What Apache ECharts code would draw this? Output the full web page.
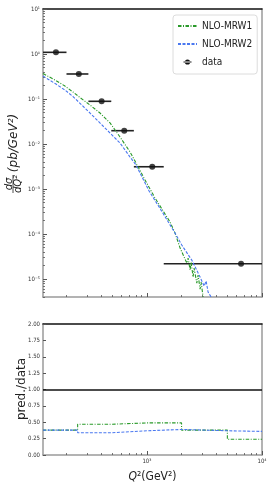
<!DOCTYPE html>
<html><head><meta charset="utf-8">
<script src="https://cdn.jsdelivr.net/npm/echarts@6/dist/echarts.min.js"></script>
<style>html,body{margin:0;padding:0;background:#fff}#c{width:272px;height:490px}</style>
</head><body><div id="c"></div>
<script>
// ---- axis ranges ----
const xMin = 125, xMax = 10000;
const yMin = 4e-6, yMax = 10;
const rMin = 0, rMax = 2;

// ---- theory curves (Q^2, dsigma/dQ^2) ----
const greenQ = [125,159,194,228,262,320,391,478,584,714,805,964,1177,1438,1589,1756,1942,2221,2280,2373,2421,2519,2570,2713,2784,2898,2957,3078];
const greenV = [0.369,0.264,0.194,0.143,0.108,0.0736,0.0489,0.0295,0.0143,0.00664,0.00378,0.00158,0.00063,0.000278,0.000185,0.000105,4.89e-5,2.27e-5,2.93e-5,1.58e-5,2.39e-5,1.107e-5,1.75e-5,8.15e-6,1.23e-5,6.0e-6,8.6e-6,4.0e-6];
const blueQ  = [125,162,194,228,320,450,584,714,805,1044,1327,1497,1756,2009,2454,2898,3140,3268,3402,3613];
const blueV  = [0.324,0.215,0.158,0.1136,0.0489,0.0205,0.0105,0.00514,0.00341,0.000903,0.000341,0.000205,0.000105,5.70e-5,2.64e-5,1.107e-5,6.99e-6,9.03e-6,5.14e-6,4.0e-6];

// ---- data points ----
const dataQ  = [162,256,404,635,1113,6577];
const dataLo = [125,200,310,490,770,1400];
const dataHi = [200,310,490,770,1400,12000];
const dataV  = [1.09,0.36,0.089,0.0198,0.00313,2.19e-5];

// ---- ratio panel ----
const binEdges   = [125,250,500,1000,2000,5000,10000];
const ratioGreen = [0.38,0.47,0.49,0.49,0.38,0.24];
const ratioBlue  = [0.38,0.34,0.37,0.39,0.37,0.36];
const ratioRef = 1.0;

// ---- ticks ----
const xMajor = [1000,10000];
const xMinor = [200,300,400,500,600,700,800,900,2000,3000,4000,5000,6000,7000,8000,9000];
const yMajor = [1e-5,1e-4,1e-3,1e-2,1e-1,1,10];
const yMinorMult = [2,3,4,5,6,7,8,9];

const yMinor = [];
[1e-6,1e-5,1e-4,1e-3,1e-2,1e-1,1].forEach(d => yMinorMult.forEach(m => { const v = d*m; if (v >= yMin && v <= yMax) yMinor.push(v); }));

const GREEN = '#2a9a2a', BLUE = '#4a78f0', GRAY = '#9a9a9a', DARK = '#111';
const SUP = {'0':'⁰','1':'¹','2':'²','3':'³','4':'⁴','5':'⁵','6':'⁶','7':'⁷','8':'⁸','9':'⁹','-':'⁻'};
function pow10Label(v){ const e = Math.round(Math.log10(v)); return '10' + String(e).split('').map(c=>SUP[c]).join(''); }
const NARROW = '"DejaVu Sans Condensed","Liberation Sans Narrow","DejaVu Sans",sans-serif';

function zip(a,b){ return a.map((v,i)=>[v,b[i]]); }
function stepData(edges, vals){ const d = vals.map((v,i)=>[edges[i],v]); d.push([edges[edges.length-1], vals[vals.length-1]]); return d; }

const G0 = {left:43, right:10, top:9, height:288};
const G1 = {left:43, right:10, top:324, height:131};

function logX(grid, extra){ return Object.assign({type:'log', logBase:10, gridIndex:grid, min:xMin, max:xMax, splitLine:{show:false}, axisLabel:{show:false}, axisTick:{show:false}, axisLine:{show:false}}, extra); }

const chart = echarts.init(document.getElementById('c'), null, {renderer:'canvas'});
chart.setOption({
  animation:false,
  backgroundColor:'#fff',
  grid:[G0, G1],
  xAxis:[
    logX(0, {position:'bottom', axisLine:{show:true, lineStyle:{color:GRAY, width:1.5}}, axisTick:{show:true, inside:true, length:4, customValues:xMajor, lineStyle:{color:'#555', width:1}}}),
    logX(0, {position:'bottom', axisTick:{show:true, inside:true, length:2, customValues:xMinor, lineStyle:{color:'#555', width:0.8}}}),
    logX(0, {position:'top', axisLine:{show:true, lineStyle:{color:DARK, width:1.5}}}),
    logX(1, {position:'bottom', axisLine:{show:true, lineStyle:{color:GRAY, width:1.5}},
      axisTick:{show:true, inside:true, length:4, customValues:xMajor, lineStyle:{color:'#555', width:1}},
      axisLabel:{show:true, customValues:xMajor, formatter:pow10Label, fontSize:6, fontFamily:NARROW, color:'#333', margin:3},
      name:'{i|Q}{n|²(GeV²)}', nameLocation:'middle', nameGap:16,
      nameTextStyle:{rich:{i:{fontSize:12, fontStyle:'italic', fontFamily:NARROW, color:'#222'}, n:{fontSize:12, fontFamily:NARROW, color:'#222'}}}}),
    logX(1, {position:'bottom', axisTick:{show:true, inside:true, length:2, customValues:xMinor, lineStyle:{color:'#555', width:0.8}}}),
    logX(1, {position:'top', axisLine:{show:true, lineStyle:{color:DARK, width:1.5}}})
  ],
  yAxis:[
    {type:'log', logBase:10, gridIndex:0, min:yMin, max:yMax, position:'left', splitLine:{show:false},
      axisLine:{show:true, lineStyle:{color:GRAY, width:1.5}},
      axisTick:{show:true, inside:true, length:4, customValues:yMajor, lineStyle:{color:'#555', width:1}},
      axisLabel:{show:true, customValues:yMajor, formatter:pow10Label, fontSize:6, fontFamily:NARROW, color:'#333', margin:3}},
    {type:'log', logBase:10, gridIndex:0, min:yMin, max:yMax, position:'left', splitLine:{show:false}, axisLine:{show:false}, axisLabel:{show:false},
      axisTick:{show:true, inside:true, length:2, customValues:yMinor, lineStyle:{color:'#555', width:0.8}}},
    {type:'log', logBase:10, gridIndex:0, min:yMin, max:yMax, position:'right', splitLine:{show:false}, axisTick:{show:false}, axisLabel:{show:false},
      axisLine:{show:true, lineStyle:{color:GRAY, width:1.5}}},
    {type:'value', gridIndex:1, min:rMin, max:rMax, interval:0.25, position:'left', splitLine:{show:false},
      axisLine:{show:true, lineStyle:{color:GRAY, width:1.5}},
      axisTick:{show:true, inside:true, length:3, lineStyle:{color:'#555', width:1}},
      axisLabel:{show:true, formatter:v=>v.toFixed(2), fontSize:6, fontFamily:NARROW, color:'#333', margin:3}},
    {type:'value', gridIndex:1, min:rMin, max:rMax, position:'right', splitLine:{show:false}, axisTick:{show:false}, axisLabel:{show:false},
      axisLine:{show:true, lineStyle:{color:GRAY, width:1.5}}}
  ],
  legend:{
    orient:'vertical', left:173, top:15, padding:[6,5,7,4], itemGap:8, itemWidth:19, itemHeight:10,
    backgroundColor:'#fff', borderColor:'#dcdcdc', borderWidth:1, borderRadius:3,
    textStyle:{fontFamily:NARROW, fontSize:10, color:'#222'},
    data:[{name:'NLO-MRW1', itemStyle:{opacity:0}},{name:'NLO-MRW2', itemStyle:{opacity:0}},
      {name:'data', icon:'path://M0,0L0.01,0M19,10L18.99,10M5.5,4.4L13.5,4.4L13.5,5.6L5.5,5.6ZM6.9,5A2.6,2.6 0 1,0 12.1,5A2.6,2.6 0 1,0 6.9,5Z'}]
  },
  series:[
    {name:'NLO-MRW1', type:'line', xAxisIndex:0, yAxisIndex:0, data:zip(greenQ, greenV), symbol:'none', clip:true,
      lineStyle:{color:GREEN, width:1.1, type:[3.5,1.5,1,1.5]}, itemStyle:{color:GREEN}},
    {name:'NLO-MRW2', type:'line', xAxisIndex:0, yAxisIndex:0, data:zip(blueQ, blueV), symbol:'none', clip:true,
      lineStyle:{color:BLUE, width:1.1, type:[3,1.5]}, itemStyle:{color:BLUE}},
    {name:'data', type:'custom', xAxisIndex:0, yAxisIndex:0, clip:true,
      data:dataQ.map((q,i)=>[dataLo[i], dataHi[i], dataV[i]]),
      encode:{x:[0,1], y:2},
      renderItem:function(params, api){
        const lo = api.value(0), hi = Math.min(api.value(1), xMax), y = api.value(2);
        const p1 = api.coord([lo, y]), p2 = api.coord([hi, y]);
        return {type:'line', shape:{x1:p1[0], y1:p1[1], x2:p2[0], y2:p2[1]}, style:{stroke:'#222', lineWidth:1.6}};
      }, itemStyle:{color:'#111'}},
    {name:'data', type:'scatter', xAxisIndex:0, yAxisIndex:0, data:zip(dataQ, dataV), symbol:'circle', symbolSize:6,
      itemStyle:{color:'#111'}},
    {name:'NLO-MRW1', type:'line', xAxisIndex:3, yAxisIndex:3, data:stepData(binEdges, ratioGreen), step:'end', symbol:'none',
      lineStyle:{color:GREEN, width:1.1, type:[3.5,1.5,1,1.5]}, itemStyle:{color:GREEN},
      markLine:{silent:true, symbol:'none', label:{show:false}, lineStyle:{color:DARK, width:1.5, type:'solid'}, data:[{yAxis:ratioRef}]}},
    {name:'NLO-MRW2', type:'line', xAxisIndex:3, yAxisIndex:3, data:stepData(binEdges, ratioBlue), step:'end', symbol:'none',
      lineStyle:{color:BLUE, width:1.1, type:[3,1.5]}, itemStyle:{color:BLUE}}
  ],
  graphic:[
    {type:'group', x:13, y:153, rotation:Math.PI/2, children:[
      {type:'text', x:-31, y:-4, style:{text:'dσ', font:'italic 10px "DejaVu Sans"', fill:'#222', align:'center', verticalAlign:'middle'}},
      {type:'line', shape:{x1:-40, y1:0, x2:-22, y2:0}, style:{stroke:'#222', lineWidth:0.8}},
      {type:'text', x:-31, y:5, style:{text:'dQ²', font:'italic 10px "DejaVu Sans"', fill:'#222', align:'center', verticalAlign:'middle'}},
      {type:'text', x:10, y:1, style:{text:'(pb/GeV²)', font:'italic 12px "DejaVu Sans"', fill:'#222', align:'center', verticalAlign:'middle'}}
    ]},
    {type:'text', x:21.5, y:389, rotation:Math.PI/2, style:{text:'pred./data', font:'12px "DejaVu Sans"', fill:'#222', align:'center', verticalAlign:'middle'}}
  ]
});
</script></body></html>
